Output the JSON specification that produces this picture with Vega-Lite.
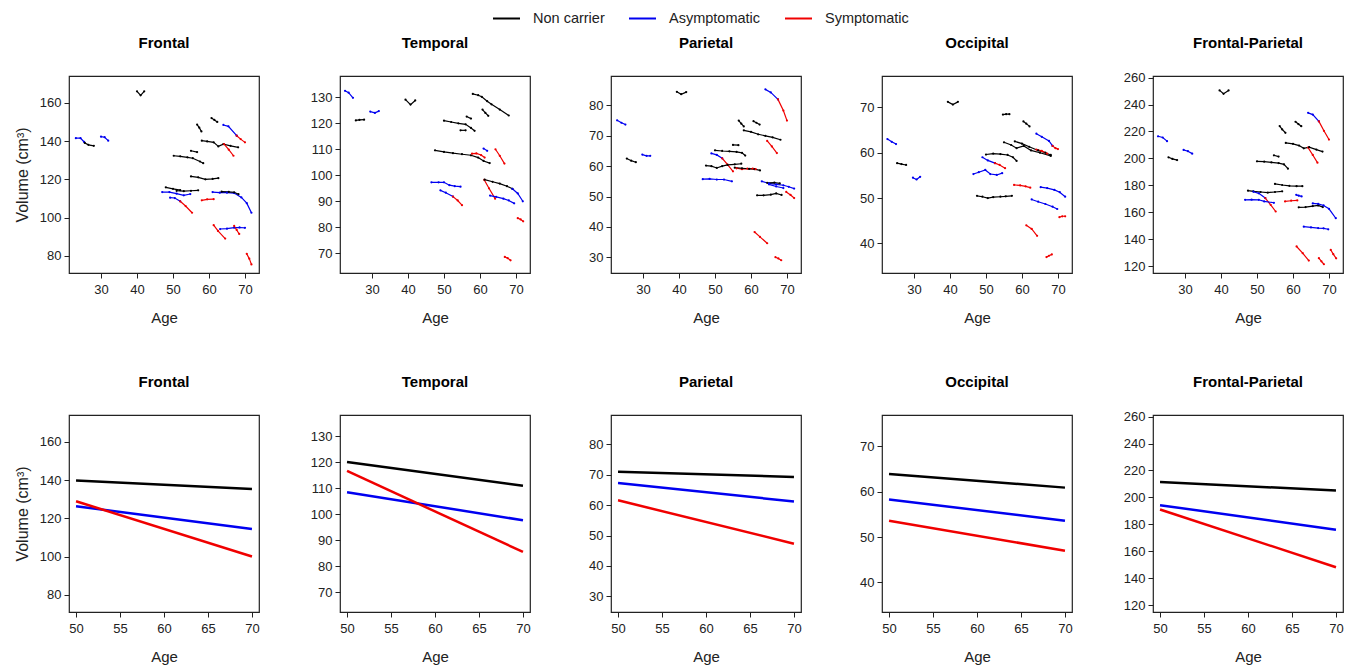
{
"$schema":"https://vega.github.io/schema/vega-lite/v6.json",
"background":"white",
"padding":{"left":13,"top":4,"right":5,"bottom":5},
"config":{
 "font":"Liberation Sans",
 "view":{"stroke":"#222","strokeWidth":1.2},
 "axis":{"grid":false,"domain":false,"ticks":true,"tickSize":5,"tickColor":"#222","labelFontSize":13,"labelColor":"#222","labelFont":"Liberation Sans","titleFont":"Liberation Sans","titleFontSize":15,"titleFontWeight":"normal","titleColor":"#222","labelPadding":3},
 "axisX":{"titlePadding":14,"labelPadding":5},
 "axisY":{"titlePadding":9,"labelAngle":0,"titleFontSize":16},
 "title":{"font":"Liberation Sans","fontSize":15,"fontWeight":"bold","color":"#000","offset":25,"frame":"group","anchor":"middle"}
},
"datasets":{
"traj":[
{"r":"F","s":1,"g":"Asymptomatic","a":23,"v":141.5},{"r":"F","s":1,"g":"Asymptomatic","a":24.3,"v":141.5},{"r":"F","s":1,"g":"Asymptomatic","a":25.3,"v":139.5},
{"r":"F","s":2,"g":"Non carrier","a":25.5,"v":139},{"r":"F","s":2,"g":"Non carrier","a":26.5,"v":138},{"r":"F","s":2,"g":"Non carrier","a":28,"v":137.5},
{"r":"F","s":3,"g":"Asymptomatic","a":30,"v":142.3},{"r":"F","s":3,"g":"Asymptomatic","a":31,"v":142},{"r":"F","s":3,"g":"Asymptomatic","a":32,"v":140.2},
{"r":"F","s":4,"g":"Non carrier","a":40,"v":166},{"r":"F","s":4,"g":"Non carrier","a":41,"v":163.9},{"r":"F","s":4,"g":"Non carrier","a":42,"v":166},
{"r":"F","s":5,"g":"Non carrier","a":56.7,"v":148.6},{"r":"F","s":5,"g":"Non carrier","a":57.3,"v":147},{"r":"F","s":5,"g":"Non carrier","a":57.9,"v":145},
{"r":"F","s":6,"g":"Non carrier","a":60.7,"v":152},{"r":"F","s":6,"g":"Non carrier","a":61.5,"v":151},{"r":"F","s":6,"g":"Non carrier","a":62.3,"v":150},
{"r":"F","s":7,"g":"Asymptomatic","a":64,"v":148.4},{"r":"F","s":7,"g":"Asymptomatic","a":65.4,"v":147.7},{"r":"F","s":7,"g":"Asymptomatic","a":67.7,"v":142.8},
{"r":"F","s":8,"g":"Symptomatic","a":67.7,"v":142.8},{"r":"F","s":8,"g":"Symptomatic","a":68.8,"v":141},{"r":"F","s":8,"g":"Symptomatic","a":70,"v":139.3},
{"r":"F","s":9,"g":"Non carrier","a":58,"v":140.2},{"r":"F","s":9,"g":"Non carrier","a":59.5,"v":139.8},{"r":"F","s":9,"g":"Non carrier","a":61.3,"v":139.3},{"r":"F","s":9,"g":"Non carrier","a":62.6,"v":137.2},{"r":"F","s":9,"g":"Non carrier","a":64,"v":138.4},{"r":"F","s":9,"g":"Non carrier","a":66,"v":137.5},{"r":"F","s":9,"g":"Non carrier","a":68.1,"v":136.7},
{"r":"F","s":10,"g":"Symptomatic","a":64.2,"v":138.4},{"r":"F","s":10,"g":"Symptomatic","a":65.5,"v":135.5},{"r":"F","s":10,"g":"Symptomatic","a":66.8,"v":132.3},
{"r":"F","s":11,"g":"Non carrier","a":50.2,"v":132.3},{"r":"F","s":11,"g":"Non carrier","a":52,"v":132},{"r":"F","s":11,"g":"Non carrier","a":54,"v":131.5},{"r":"F","s":11,"g":"Non carrier","a":55.5,"v":131},{"r":"F","s":11,"g":"Non carrier","a":57.5,"v":129.3},{"r":"F","s":11,"g":"Non carrier","a":58.4,"v":128.4},
{"r":"F","s":12,"g":"Non carrier","a":55,"v":134.9},{"r":"F","s":12,"g":"Non carrier","a":56.7,"v":134.2},
{"r":"F","s":13,"g":"Non carrier","a":55,"v":121.5},{"r":"F","s":13,"g":"Non carrier","a":57,"v":121},{"r":"F","s":13,"g":"Non carrier","a":59,"v":120},{"r":"F","s":13,"g":"Non carrier","a":61,"v":120.2},{"r":"F","s":13,"g":"Non carrier","a":62.6,"v":120.6},
{"r":"F","s":14,"g":"Non carrier","a":48,"v":115.8},{"r":"F","s":14,"g":"Non carrier","a":50,"v":115},{"r":"F","s":14,"g":"Non carrier","a":52,"v":114.3},
{"r":"F","s":15,"g":"Non carrier","a":51,"v":114},{"r":"F","s":15,"g":"Non carrier","a":53,"v":113.8},{"r":"F","s":15,"g":"Non carrier","a":55,"v":114},{"r":"F","s":15,"g":"Non carrier","a":57,"v":114.2},
{"r":"F","s":16,"g":"Asymptomatic","a":47,"v":113.3},{"r":"F","s":16,"g":"Asymptomatic","a":49,"v":113.3},{"r":"F","s":16,"g":"Asymptomatic","a":51,"v":112.5},{"r":"F","s":16,"g":"Asymptomatic","a":53,"v":111.6},{"r":"F","s":16,"g":"Asymptomatic","a":54.8,"v":112.3},
{"r":"F","s":17,"g":"Asymptomatic","a":49.2,"v":110.4},{"r":"F","s":17,"g":"Asymptomatic","a":50.5,"v":110.2},{"r":"F","s":17,"g":"Asymptomatic","a":52,"v":108.5},
{"r":"F","s":18,"g":"Symptomatic","a":52,"v":108.5},{"r":"F","s":18,"g":"Symptomatic","a":53.5,"v":106},{"r":"F","s":18,"g":"Symptomatic","a":55.3,"v":102.5},
{"r":"F","s":19,"g":"Symptomatic","a":58,"v":109},{"r":"F","s":19,"g":"Symptomatic","a":59.5,"v":109.5},{"r":"F","s":19,"g":"Symptomatic","a":61.3,"v":109.6},
{"r":"F","s":20,"g":"Asymptomatic","a":61,"v":113.3},{"r":"F","s":20,"g":"Asymptomatic","a":63,"v":113},{"r":"F","s":20,"g":"Asymptomatic","a":65,"v":113},{"r":"F","s":20,"g":"Asymptomatic","a":67,"v":112.8},{"r":"F","s":20,"g":"Asymptomatic","a":69,"v":110.5},{"r":"F","s":20,"g":"Asymptomatic","a":70.5,"v":107.5},{"r":"F","s":20,"g":"Asymptomatic","a":71.8,"v":102.5},
{"r":"F","s":21,"g":"Non carrier","a":63.5,"v":113.5},{"r":"F","s":21,"g":"Non carrier","a":65.5,"v":113.4},{"r":"F","s":21,"g":"Non carrier","a":67,"v":113.2},{"r":"F","s":21,"g":"Non carrier","a":68.2,"v":112.2},
{"r":"F","s":22,"g":"Symptomatic","a":61.3,"v":96},{"r":"F","s":22,"g":"Symptomatic","a":62.5,"v":93},{"r":"F","s":22,"g":"Symptomatic","a":64.5,"v":89},
{"r":"F","s":23,"g":"Asymptomatic","a":63.1,"v":94},{"r":"F","s":23,"g":"Asymptomatic","a":65,"v":94.2},{"r":"F","s":23,"g":"Asymptomatic","a":67,"v":94.7},{"r":"F","s":23,"g":"Asymptomatic","a":68.5,"v":94.8},{"r":"F","s":23,"g":"Asymptomatic","a":70,"v":94.6},
{"r":"F","s":24,"g":"Symptomatic","a":67,"v":95.6},{"r":"F","s":24,"g":"Symptomatic","a":67.7,"v":93.5},{"r":"F","s":24,"g":"Symptomatic","a":68.4,"v":91.4},
{"r":"F","s":25,"g":"Symptomatic","a":70.5,"v":81},{"r":"F","s":25,"g":"Symptomatic","a":71.2,"v":78.5},{"r":"F","s":25,"g":"Symptomatic","a":71.8,"v":75.5},

{"r":"T","s":1,"g":"Asymptomatic","a":22.5,"v":132.5},{"r":"T","s":1,"g":"Asymptomatic","a":23.5,"v":131.8},{"r":"T","s":1,"g":"Asymptomatic","a":24.7,"v":129.8},
{"r":"T","s":2,"g":"Non carrier","a":25.5,"v":121.1},{"r":"T","s":2,"g":"Non carrier","a":26.5,"v":121.3},{"r":"T","s":2,"g":"Non carrier","a":27.8,"v":121.4},
{"r":"T","s":3,"g":"Asymptomatic","a":29.5,"v":124.5},{"r":"T","s":3,"g":"Asymptomatic","a":30.8,"v":124},{"r":"T","s":3,"g":"Asymptomatic","a":31.9,"v":124.7},
{"r":"T","s":4,"g":"Non carrier","a":39.3,"v":129.1},{"r":"T","s":4,"g":"Non carrier","a":40.7,"v":127.2},{"r":"T","s":4,"g":"Non carrier","a":42,"v":128.8},
{"r":"T","s":5,"g":"Non carrier","a":58,"v":131.3},{"r":"T","s":5,"g":"Non carrier","a":59.5,"v":130.8},{"r":"T","s":5,"g":"Non carrier","a":60.5,"v":130.2},{"r":"T","s":5,"g":"Non carrier","a":62,"v":128.5},{"r":"T","s":5,"g":"Non carrier","a":63.2,"v":127.3},{"r":"T","s":5,"g":"Non carrier","a":65.5,"v":125.3},{"r":"T","s":5,"g":"Non carrier","a":68,"v":123},
{"r":"T","s":6,"g":"Non carrier","a":60.7,"v":125.3},{"r":"T","s":6,"g":"Non carrier","a":61.5,"v":124},{"r":"T","s":6,"g":"Non carrier","a":62.3,"v":122.9},
{"r":"T","s":7,"g":"Non carrier","a":50,"v":121},{"r":"T","s":7,"g":"Non carrier","a":52,"v":120.5},{"r":"T","s":7,"g":"Non carrier","a":54,"v":120},{"r":"T","s":7,"g":"Non carrier","a":56,"v":119.6},{"r":"T","s":7,"g":"Non carrier","a":57.5,"v":118.2},{"r":"T","s":7,"g":"Non carrier","a":58.5,"v":117.1},
{"r":"T","s":8,"g":"Non carrier","a":56.3,"v":122.6},{"r":"T","s":8,"g":"Non carrier","a":57.5,"v":121.8},
{"r":"T","s":9,"g":"Non carrier","a":54.6,"v":117.3},{"r":"T","s":9,"g":"Non carrier","a":56,"v":117.3},
{"r":"T","s":10,"g":"Non carrier","a":47.5,"v":109.6},{"r":"T","s":10,"g":"Non carrier","a":50,"v":109},{"r":"T","s":10,"g":"Non carrier","a":52.5,"v":108.5},{"r":"T","s":10,"g":"Non carrier","a":55,"v":108.1},{"r":"T","s":10,"g":"Non carrier","a":57.5,"v":107.7},{"r":"T","s":10,"g":"Non carrier","a":59.5,"v":106.8},{"r":"T","s":10,"g":"Non carrier","a":61,"v":105.5},{"r":"T","s":10,"g":"Non carrier","a":62.7,"v":104.7},
{"r":"T","s":11,"g":"Symptomatic","a":57.8,"v":108.3},{"r":"T","s":11,"g":"Symptomatic","a":59,"v":108.4},{"r":"T","s":11,"g":"Symptomatic","a":60.3,"v":107.8},{"r":"T","s":11,"g":"Symptomatic","a":61.3,"v":106.8},
{"r":"T","s":12,"g":"Asymptomatic","a":61,"v":110.3},{"r":"T","s":12,"g":"Asymptomatic","a":62,"v":109.4},
{"r":"T","s":13,"g":"Symptomatic","a":64.3,"v":110},{"r":"T","s":13,"g":"Symptomatic","a":65.5,"v":107.5},{"r":"T","s":13,"g":"Symptomatic","a":66.8,"v":104.5},
{"r":"T","s":14,"g":"Asymptomatic","a":46.5,"v":97.3},{"r":"T","s":14,"g":"Asymptomatic","a":48.5,"v":97.3},{"r":"T","s":14,"g":"Asymptomatic","a":50,"v":97.3},{"r":"T","s":14,"g":"Asymptomatic","a":51.5,"v":96.2},{"r":"T","s":14,"g":"Asymptomatic","a":53,"v":95.8},{"r":"T","s":14,"g":"Asymptomatic","a":54.6,"v":95.6},
{"r":"T","s":15,"g":"Asymptomatic","a":49,"v":94.2},{"r":"T","s":15,"g":"Asymptomatic","a":50.5,"v":93.3},{"r":"T","s":15,"g":"Asymptomatic","a":52.5,"v":91.8},
{"r":"T","s":16,"g":"Symptomatic","a":52.5,"v":91.8},{"r":"T","s":16,"g":"Symptomatic","a":53.8,"v":90.3},{"r":"T","s":16,"g":"Symptomatic","a":55,"v":88.5},
{"r":"T","s":17,"g":"Non carrier","a":61.3,"v":98.3},{"r":"T","s":17,"g":"Non carrier","a":63.5,"v":97.5},{"r":"T","s":17,"g":"Non carrier","a":65.5,"v":96.8},{"r":"T","s":17,"g":"Non carrier","a":67.5,"v":95.8},{"r":"T","s":17,"g":"Non carrier","a":69,"v":94.8},
{"r":"T","s":18,"g":"Asymptomatic","a":69,"v":94.8},{"r":"T","s":18,"g":"Asymptomatic","a":70.5,"v":93},{"r":"T","s":18,"g":"Asymptomatic","a":71.9,"v":90},
{"r":"T","s":19,"g":"Symptomatic","a":61.2,"v":98.2},{"r":"T","s":19,"g":"Symptomatic","a":62.5,"v":95},{"r":"T","s":19,"g":"Symptomatic","a":64.2,"v":91},
{"r":"T","s":20,"g":"Asymptomatic","a":62.8,"v":92.2},{"r":"T","s":20,"g":"Asymptomatic","a":64.5,"v":91.7},{"r":"T","s":20,"g":"Asymptomatic","a":66.5,"v":91},{"r":"T","s":20,"g":"Asymptomatic","a":68,"v":90.3},{"r":"T","s":20,"g":"Asymptomatic","a":69.5,"v":89.2},
{"r":"T","s":21,"g":"Symptomatic","a":70.5,"v":83.5},{"r":"T","s":21,"g":"Symptomatic","a":71.3,"v":83},{"r":"T","s":21,"g":"Symptomatic","a":72,"v":82.3},
{"r":"T","s":22,"g":"Symptomatic","a":66.9,"v":68.6},{"r":"T","s":22,"g":"Symptomatic","a":67.7,"v":68.1},{"r":"T","s":22,"g":"Symptomatic","a":68.5,"v":67.3},

{"r":"P","s":1,"g":"Asymptomatic","a":22.8,"v":75.1},{"r":"P","s":1,"g":"Asymptomatic","a":24,"v":74.3},{"r":"P","s":1,"g":"Asymptomatic","a":25.1,"v":73.7},
{"r":"P","s":2,"g":"Non carrier","a":25.5,"v":62.5},{"r":"P","s":2,"g":"Non carrier","a":26.7,"v":61.8},{"r":"P","s":2,"g":"Non carrier","a":28,"v":61.3},
{"r":"P","s":3,"g":"Asymptomatic","a":29.8,"v":63.8},{"r":"P","s":3,"g":"Asymptomatic","a":31,"v":63.4},{"r":"P","s":3,"g":"Asymptomatic","a":32,"v":63.4},
{"r":"P","s":4,"g":"Non carrier","a":39.4,"v":84.5},{"r":"P","s":4,"g":"Non carrier","a":40.6,"v":83.7},{"r":"P","s":4,"g":"Non carrier","a":42,"v":84.4},
{"r":"P","s":5,"g":"Asymptomatic","a":64,"v":85.3},{"r":"P","s":5,"g":"Asymptomatic","a":65.5,"v":84.3},{"r":"P","s":5,"g":"Asymptomatic","a":67.5,"v":82},
{"r":"P","s":6,"g":"Symptomatic","a":67.5,"v":82},{"r":"P","s":6,"g":"Symptomatic","a":69,"v":78.3},{"r":"P","s":6,"g":"Symptomatic","a":70,"v":75},
{"r":"P","s":7,"g":"Non carrier","a":56.6,"v":75},{"r":"P","s":7,"g":"Non carrier","a":57.3,"v":74},{"r":"P","s":7,"g":"Non carrier","a":58,"v":73.1},
{"r":"P","s":8,"g":"Non carrier","a":60.7,"v":74.8},{"r":"P","s":8,"g":"Non carrier","a":61.5,"v":74.3},{"r":"P","s":8,"g":"Non carrier","a":62.4,"v":73.7},
{"r":"P","s":9,"g":"Non carrier","a":58,"v":71.8},{"r":"P","s":9,"g":"Non carrier","a":60,"v":71.3},{"r":"P","s":9,"g":"Non carrier","a":62,"v":70.5},{"r":"P","s":9,"g":"Non carrier","a":64,"v":70},{"r":"P","s":9,"g":"Non carrier","a":66,"v":69.5},{"r":"P","s":9,"g":"Non carrier","a":68.2,"v":68.7},
{"r":"P","s":10,"g":"Symptomatic","a":64.5,"v":68.3},{"r":"P","s":10,"g":"Symptomatic","a":65.8,"v":66.5},{"r":"P","s":10,"g":"Symptomatic","a":67.2,"v":64.3},
{"r":"P","s":11,"g":"Non carrier","a":55,"v":67},{"r":"P","s":11,"g":"Non carrier","a":56.5,"v":66.9},
{"r":"P","s":12,"g":"Non carrier","a":50,"v":65.2},{"r":"P","s":12,"g":"Non carrier","a":52,"v":65},{"r":"P","s":12,"g":"Non carrier","a":54,"v":64.9},{"r":"P","s":12,"g":"Non carrier","a":56,"v":64.7},{"r":"P","s":12,"g":"Non carrier","a":57.5,"v":64.4},{"r":"P","s":12,"g":"Non carrier","a":58.4,"v":63.5},
{"r":"P","s":13,"g":"Asymptomatic","a":49,"v":64.2},{"r":"P","s":13,"g":"Asymptomatic","a":50.5,"v":63.7},{"r":"P","s":13,"g":"Asymptomatic","a":52,"v":62.6},
{"r":"P","s":14,"g":"Symptomatic","a":52,"v":62.6},{"r":"P","s":14,"g":"Symptomatic","a":53.5,"v":60.5},{"r":"P","s":14,"g":"Symptomatic","a":55,"v":58.3},
{"r":"P","s":15,"g":"Non carrier","a":47.5,"v":60.2},{"r":"P","s":15,"g":"Non carrier","a":49,"v":60},{"r":"P","s":15,"g":"Non carrier","a":50.5,"v":59.4},{"r":"P","s":15,"g":"Non carrier","a":52,"v":60},{"r":"P","s":15,"g":"Non carrier","a":53.5,"v":60.4},{"r":"P","s":15,"g":"Non carrier","a":55.5,"v":60.6},{"r":"P","s":15,"g":"Non carrier","a":57.3,"v":60.8},
{"r":"P","s":16,"g":"Symptomatic","a":56,"v":59.3},{"r":"P","s":16,"g":"Symptomatic","a":57.5,"v":59},{"r":"P","s":16,"g":"Symptomatic","a":59,"v":59.2},{"r":"P","s":16,"g":"Symptomatic","a":60.5,"v":59.2},{"r":"P","s":16,"g":"Symptomatic","a":61.3,"v":59},
{"r":"P","s":17,"g":"Non carrier","a":55.5,"v":59.5},{"r":"P","s":17,"g":"Non carrier","a":57.5,"v":59.3},{"r":"P","s":17,"g":"Non carrier","a":59.5,"v":59.1},{"r":"P","s":17,"g":"Non carrier","a":61,"v":59},{"r":"P","s":17,"g":"Non carrier","a":62.5,"v":58.6},
{"r":"P","s":18,"g":"Asymptomatic","a":46.6,"v":55.7},{"r":"P","s":18,"g":"Asymptomatic","a":48.5,"v":55.8},{"r":"P","s":18,"g":"Asymptomatic","a":50.5,"v":55.6},{"r":"P","s":18,"g":"Asymptomatic","a":52.5,"v":55.6},{"r":"P","s":18,"g":"Asymptomatic","a":54.7,"v":55},
{"r":"P","s":19,"g":"Asymptomatic","a":63,"v":55},{"r":"P","s":19,"g":"Asymptomatic","a":65,"v":54.3},{"r":"P","s":19,"g":"Asymptomatic","a":67,"v":54},{"r":"P","s":19,"g":"Asymptomatic","a":69,"v":53.7},{"r":"P","s":19,"g":"Asymptomatic","a":70.5,"v":53.2},{"r":"P","s":19,"g":"Asymptomatic","a":72,"v":52.6},
{"r":"P","s":20,"g":"Asymptomatic","a":65,"v":54},{"r":"P","s":20,"g":"Asymptomatic","a":67,"v":53.3},{"r":"P","s":20,"g":"Asymptomatic","a":69,"v":52.8},
{"r":"P","s":21,"g":"Non carrier","a":64.5,"v":54.5},{"r":"P","s":21,"g":"Non carrier","a":66.5,"v":54.6},{"r":"P","s":21,"g":"Non carrier","a":68,"v":54.3},
{"r":"P","s":22,"g":"Symptomatic","a":69.8,"v":51.5},{"r":"P","s":22,"g":"Symptomatic","a":71,"v":50.5},{"r":"P","s":22,"g":"Symptomatic","a":72,"v":49.5},
{"r":"P","s":23,"g":"Non carrier","a":61.7,"v":50.4},{"r":"P","s":23,"g":"Non carrier","a":63.5,"v":50.4},{"r":"P","s":23,"g":"Non carrier","a":65.5,"v":50.6},{"r":"P","s":23,"g":"Non carrier","a":67,"v":51},{"r":"P","s":23,"g":"Non carrier","a":68.5,"v":50.5},
{"r":"P","s":24,"g":"Symptomatic","a":61,"v":38.3},{"r":"P","s":24,"g":"Symptomatic","a":62.5,"v":36.7},{"r":"P","s":24,"g":"Symptomatic","a":64.5,"v":34.6},
{"r":"P","s":25,"g":"Symptomatic","a":66.8,"v":30},{"r":"P","s":25,"g":"Symptomatic","a":67.6,"v":29.6},{"r":"P","s":25,"g":"Symptomatic","a":68.4,"v":29},

{"r":"O","s":1,"g":"Asymptomatic","a":22.6,"v":63},{"r":"O","s":1,"g":"Asymptomatic","a":23.8,"v":62.4},{"r":"O","s":1,"g":"Asymptomatic","a":25,"v":61.9},
{"r":"O","s":2,"g":"Non carrier","a":25.3,"v":57.7},{"r":"O","s":2,"g":"Non carrier","a":26.5,"v":57.5},{"r":"O","s":2,"g":"Non carrier","a":27.8,"v":57.3},
{"r":"O","s":3,"g":"Asymptomatic","a":29.7,"v":54.5},{"r":"O","s":3,"g":"Asymptomatic","a":30.7,"v":54.1},{"r":"O","s":3,"g":"Asymptomatic","a":31.7,"v":54.7},
{"r":"O","s":4,"g":"Non carrier","a":39.4,"v":71.2},{"r":"O","s":4,"g":"Non carrier","a":40.8,"v":70.6},{"r":"O","s":4,"g":"Non carrier","a":42.2,"v":71.2},
{"r":"O","s":5,"g":"Non carrier","a":54.7,"v":68.4},{"r":"O","s":5,"g":"Non carrier","a":55.6,"v":68.5},{"r":"O","s":5,"g":"Non carrier","a":56.5,"v":68.5},
{"r":"O","s":6,"g":"Non carrier","a":60.4,"v":66.9},{"r":"O","s":6,"g":"Non carrier","a":61.2,"v":66.4},{"r":"O","s":6,"g":"Non carrier","a":62.1,"v":65.8},
{"r":"O","s":7,"g":"Asymptomatic","a":64,"v":64.2},{"r":"O","s":7,"g":"Asymptomatic","a":65.5,"v":63.5},{"r":"O","s":7,"g":"Asymptomatic","a":67.5,"v":62.6},{"r":"O","s":7,"g":"Asymptomatic","a":68.5,"v":61.5},
{"r":"O","s":8,"g":"Symptomatic","a":68.5,"v":61.5},{"r":"O","s":8,"g":"Symptomatic","a":69.3,"v":61},{"r":"O","s":8,"g":"Symptomatic","a":70,"v":60.8},
{"r":"O","s":9,"g":"Non carrier","a":55,"v":62.3},{"r":"O","s":9,"g":"Non carrier","a":57,"v":61.7},{"r":"O","s":9,"g":"Non carrier","a":58.5,"v":61},{"r":"O","s":9,"g":"Non carrier","a":60.5,"v":61.5},{"r":"O","s":9,"g":"Non carrier","a":62.5,"v":60.5},{"r":"O","s":9,"g":"Non carrier","a":65,"v":60},{"r":"O","s":9,"g":"Non carrier","a":68,"v":59.3},
{"r":"O","s":10,"g":"Non carrier","a":58,"v":62.5},{"r":"O","s":10,"g":"Non carrier","a":60,"v":62},{"r":"O","s":10,"g":"Non carrier","a":62,"v":61.3},{"r":"O","s":10,"g":"Non carrier","a":64.5,"v":60.5},{"r":"O","s":10,"g":"Non carrier","a":66.5,"v":60},{"r":"O","s":10,"g":"Non carrier","a":68,"v":59.5},
{"r":"O","s":11,"g":"Symptomatic","a":64,"v":60.7},{"r":"O","s":11,"g":"Symptomatic","a":65.5,"v":60.4},{"r":"O","s":11,"g":"Symptomatic","a":67,"v":59.8},
{"r":"O","s":12,"g":"Non carrier","a":50,"v":59.6},{"r":"O","s":12,"g":"Non carrier","a":52,"v":59.8},{"r":"O","s":12,"g":"Non carrier","a":54,"v":59.7},{"r":"O","s":12,"g":"Non carrier","a":56,"v":59.5},{"r":"O","s":12,"g":"Non carrier","a":57.5,"v":59},{"r":"O","s":12,"g":"Non carrier","a":58.5,"v":58.2},
{"r":"O","s":13,"g":"Asymptomatic","a":49,"v":59},{"r":"O","s":13,"g":"Asymptomatic","a":50.5,"v":58.3},{"r":"O","s":13,"g":"Asymptomatic","a":52.5,"v":57.7},
{"r":"O","s":14,"g":"Symptomatic","a":52.5,"v":57.7},{"r":"O","s":14,"g":"Symptomatic","a":53.8,"v":57.3},{"r":"O","s":14,"g":"Symptomatic","a":55.3,"v":56.6},
{"r":"O","s":15,"g":"Asymptomatic","a":46.5,"v":55.3},{"r":"O","s":15,"g":"Asymptomatic","a":48,"v":55.7},{"r":"O","s":15,"g":"Asymptomatic","a":49.8,"v":56.2},{"r":"O","s":15,"g":"Asymptomatic","a":51.2,"v":55.3},{"r":"O","s":15,"g":"Asymptomatic","a":53,"v":55.1},{"r":"O","s":15,"g":"Asymptomatic","a":54.5,"v":55.5},
{"r":"O","s":16,"g":"Non carrier","a":47.5,"v":50.5},{"r":"O","s":16,"g":"Non carrier","a":49,"v":50.3},{"r":"O","s":16,"g":"Non carrier","a":50.5,"v":50},{"r":"O","s":16,"g":"Non carrier","a":52,"v":50.2},{"r":"O","s":16,"g":"Non carrier","a":54,"v":50.3},{"r":"O","s":16,"g":"Non carrier","a":55.5,"v":50.4},{"r":"O","s":16,"g":"Non carrier","a":57.2,"v":50.5},
{"r":"O","s":17,"g":"Symptomatic","a":57.8,"v":52.9},{"r":"O","s":17,"g":"Symptomatic","a":59.5,"v":52.8},{"r":"O","s":17,"g":"Symptomatic","a":61,"v":52.6},{"r":"O","s":17,"g":"Symptomatic","a":62.3,"v":52.3},
{"r":"O","s":18,"g":"Asymptomatic","a":65.2,"v":52.4},{"r":"O","s":18,"g":"Asymptomatic","a":67,"v":52.2},{"r":"O","s":18,"g":"Asymptomatic","a":69,"v":51.8},{"r":"O","s":18,"g":"Asymptomatic","a":70.5,"v":51.3},{"r":"O","s":18,"g":"Asymptomatic","a":72,"v":50.3},
{"r":"O","s":19,"g":"Asymptomatic","a":62.7,"v":49.7},{"r":"O","s":19,"g":"Asymptomatic","a":64.5,"v":49.2},{"r":"O","s":19,"g":"Asymptomatic","a":66.5,"v":48.7},{"r":"O","s":19,"g":"Asymptomatic","a":68.5,"v":48.1},{"r":"O","s":19,"g":"Asymptomatic","a":69.8,"v":47.6},
{"r":"O","s":20,"g":"Symptomatic","a":70.4,"v":45.8},{"r":"O","s":20,"g":"Symptomatic","a":71.2,"v":46},{"r":"O","s":20,"g":"Symptomatic","a":72,"v":46},
{"r":"O","s":21,"g":"Symptomatic","a":61.2,"v":44},{"r":"O","s":21,"g":"Symptomatic","a":62.7,"v":43.2},{"r":"O","s":21,"g":"Symptomatic","a":64.2,"v":41.7},
{"r":"O","s":22,"g":"Symptomatic","a":66.8,"v":37},{"r":"O","s":22,"g":"Symptomatic","a":67.5,"v":37.3},{"r":"O","s":22,"g":"Symptomatic","a":68.3,"v":37.6},

{"r":"FP","s":1,"g":"Asymptomatic","a":22.5,"v":216.4},{"r":"FP","s":1,"g":"Asymptomatic","a":23.8,"v":215.5},{"r":"FP","s":1,"g":"Asymptomatic","a":25,"v":212.8},
{"r":"FP","s":2,"g":"Non carrier","a":25.4,"v":200.8},{"r":"FP","s":2,"g":"Non carrier","a":26.5,"v":199.6},{"r":"FP","s":2,"g":"Non carrier","a":27.8,"v":198.7},
{"r":"FP","s":3,"g":"Asymptomatic","a":29.6,"v":206.3},{"r":"FP","s":3,"g":"Asymptomatic","a":30.8,"v":205.3},{"r":"FP","s":3,"g":"Asymptomatic","a":32,"v":203.5},
{"r":"FP","s":4,"g":"Non carrier","a":39.6,"v":250.5},{"r":"FP","s":4,"g":"Non carrier","a":40.7,"v":248},{"r":"FP","s":4,"g":"Non carrier","a":42.1,"v":250.5},
{"r":"FP","s":5,"g":"Asymptomatic","a":64.2,"v":233.8},{"r":"FP","s":5,"g":"Asymptomatic","a":65.5,"v":232.5},{"r":"FP","s":5,"g":"Asymptomatic","a":67.2,"v":227.5},
{"r":"FP","s":6,"g":"Symptomatic","a":67.2,"v":227.5},{"r":"FP","s":6,"g":"Symptomatic","a":68.6,"v":220.5},{"r":"FP","s":6,"g":"Symptomatic","a":70,"v":214},
{"r":"FP","s":7,"g":"Non carrier","a":56.3,"v":224},{"r":"FP","s":7,"g":"Non carrier","a":57,"v":221.5},{"r":"FP","s":7,"g":"Non carrier","a":57.9,"v":219},
{"r":"FP","s":8,"g":"Non carrier","a":60.7,"v":227.2},{"r":"FP","s":8,"g":"Non carrier","a":61.5,"v":225.5},{"r":"FP","s":8,"g":"Non carrier","a":62.3,"v":223.9},
{"r":"FP","s":9,"g":"Non carrier","a":58,"v":211.5},{"r":"FP","s":9,"g":"Non carrier","a":60,"v":210.8},{"r":"FP","s":9,"g":"Non carrier","a":61.7,"v":209.5},{"r":"FP","s":9,"g":"Non carrier","a":63,"v":207.5},{"r":"FP","s":9,"g":"Non carrier","a":64.5,"v":208.3},{"r":"FP","s":9,"g":"Non carrier","a":66.5,"v":206.5},{"r":"FP","s":9,"g":"Non carrier","a":68.2,"v":205},
{"r":"FP","s":10,"g":"Symptomatic","a":64.2,"v":208},{"r":"FP","s":10,"g":"Symptomatic","a":65.5,"v":202.5},{"r":"FP","s":10,"g":"Symptomatic","a":66.8,"v":196.8},
{"r":"FP","s":11,"g":"Non carrier","a":54.7,"v":202.3},{"r":"FP","s":11,"g":"Non carrier","a":56,"v":201.3},
{"r":"FP","s":12,"g":"Non carrier","a":50,"v":197.8},{"r":"FP","s":12,"g":"Non carrier","a":52,"v":197.5},{"r":"FP","s":12,"g":"Non carrier","a":54,"v":197},{"r":"FP","s":12,"g":"Non carrier","a":56,"v":196.5},{"r":"FP","s":12,"g":"Non carrier","a":57.5,"v":195.5},{"r":"FP","s":12,"g":"Non carrier","a":58.6,"v":192.3},
{"r":"FP","s":13,"g":"Non carrier","a":55,"v":181},{"r":"FP","s":13,"g":"Non carrier","a":57,"v":180.2},{"r":"FP","s":13,"g":"Non carrier","a":59,"v":179.6},{"r":"FP","s":13,"g":"Non carrier","a":61,"v":179.3},{"r":"FP","s":13,"g":"Non carrier","a":62.6,"v":179.3},
{"r":"FP","s":14,"g":"Non carrier","a":47.5,"v":176},{"r":"FP","s":14,"g":"Non carrier","a":49,"v":175.5},{"r":"FP","s":14,"g":"Non carrier","a":51,"v":175},{"r":"FP","s":14,"g":"Non carrier","a":53,"v":174.6},{"r":"FP","s":14,"g":"Non carrier","a":55,"v":175},{"r":"FP","s":14,"g":"Non carrier","a":57,"v":175.5},
{"r":"FP","s":15,"g":"Asymptomatic","a":49,"v":175.2},{"r":"FP","s":15,"g":"Asymptomatic","a":50.5,"v":174},{"r":"FP","s":15,"g":"Asymptomatic","a":52.3,"v":170.5},
{"r":"FP","s":16,"g":"Symptomatic","a":52.3,"v":170.5},{"r":"FP","s":16,"g":"Symptomatic","a":53.8,"v":165.5},{"r":"FP","s":16,"g":"Symptomatic","a":55.2,"v":160.5},
{"r":"FP","s":17,"g":"Asymptomatic","a":46.7,"v":169.2},{"r":"FP","s":17,"g":"Asymptomatic","a":48.5,"v":169.3},{"r":"FP","s":17,"g":"Asymptomatic","a":50.5,"v":169.2},{"r":"FP","s":17,"g":"Asymptomatic","a":52,"v":168},{"r":"FP","s":17,"g":"Asymptomatic","a":54.7,"v":167},
{"r":"FP","s":18,"g":"Symptomatic","a":57.8,"v":168},{"r":"FP","s":18,"g":"Symptomatic","a":59.5,"v":168.5},{"r":"FP","s":18,"g":"Symptomatic","a":61.2,"v":168.7},
{"r":"FP","s":19,"g":"Asymptomatic","a":60.9,"v":172.9},{"r":"FP","s":19,"g":"Asymptomatic","a":61.6,"v":172.3},{"r":"FP","s":19,"g":"Asymptomatic","a":62.4,"v":171.7},
{"r":"FP","s":20,"g":"Non carrier","a":61.6,"v":163.6},{"r":"FP","s":20,"g":"Non carrier","a":63.5,"v":163.8},{"r":"FP","s":20,"g":"Non carrier","a":65.5,"v":164.5},{"r":"FP","s":20,"g":"Non carrier","a":67,"v":165},{"r":"FP","s":20,"g":"Non carrier","a":68.3,"v":163.8},
{"r":"FP","s":21,"g":"Asymptomatic","a":65.5,"v":166.5},{"r":"FP","s":21,"g":"Asymptomatic","a":67,"v":166.2},{"r":"FP","s":21,"g":"Asymptomatic","a":68.5,"v":165},{"r":"FP","s":21,"g":"Asymptomatic","a":70,"v":162.5},{"r":"FP","s":21,"g":"Asymptomatic","a":71.9,"v":155.5},
{"r":"FP","s":22,"g":"Asymptomatic","a":63,"v":149.2},{"r":"FP","s":22,"g":"Asymptomatic","a":65,"v":148.7},{"r":"FP","s":22,"g":"Asymptomatic","a":67,"v":148.2},{"r":"FP","s":22,"g":"Asymptomatic","a":68.5,"v":148},{"r":"FP","s":22,"g":"Asymptomatic","a":69.8,"v":147.3},
{"r":"FP","s":23,"g":"Symptomatic","a":61,"v":134.5},{"r":"FP","s":23,"g":"Symptomatic","a":62.7,"v":129.5},{"r":"FP","s":23,"g":"Symptomatic","a":64.4,"v":124},
{"r":"FP","s":24,"g":"Symptomatic","a":67.2,"v":125.8},{"r":"FP","s":24,"g":"Symptomatic","a":67.9,"v":123.5},{"r":"FP","s":24,"g":"Symptomatic","a":68.6,"v":121.3},
{"r":"FP","s":25,"g":"Symptomatic","a":70.5,"v":131.9},{"r":"FP","s":25,"g":"Symptomatic","a":71.2,"v":128.8},{"r":"FP","s":25,"g":"Symptomatic","a":72,"v":125.7}
],
"fit":[
{"r":"F","g":"Non carrier","a":50,"v":139.7},{"r":"F","g":"Non carrier","a":70,"v":135.3},
{"r":"F","g":"Asymptomatic","a":50,"v":126.3},{"r":"F","g":"Asymptomatic","a":70,"v":114.4},
{"r":"F","g":"Symptomatic","a":50,"v":128.9},{"r":"F","g":"Symptomatic","a":70,"v":100},
{"r":"T","g":"Non carrier","a":50,"v":120.1},{"r":"T","g":"Non carrier","a":70,"v":111},
{"r":"T","g":"Asymptomatic","a":50,"v":108.5},{"r":"T","g":"Asymptomatic","a":70,"v":97.7},
{"r":"T","g":"Symptomatic","a":50,"v":116.7},{"r":"T","g":"Symptomatic","a":70,"v":85.5},
{"r":"P","g":"Non carrier","a":50,"v":71},{"r":"P","g":"Non carrier","a":70,"v":69.3},
{"r":"P","g":"Asymptomatic","a":50,"v":67.3},{"r":"P","g":"Asymptomatic","a":70,"v":61.2},
{"r":"P","g":"Symptomatic","a":50,"v":61.6},{"r":"P","g":"Symptomatic","a":70,"v":47.3},
{"r":"O","g":"Non carrier","a":50,"v":63.9},{"r":"O","g":"Non carrier","a":70,"v":60.9},
{"r":"O","g":"Asymptomatic","a":50,"v":58.3},{"r":"O","g":"Asymptomatic","a":70,"v":53.6},
{"r":"O","g":"Symptomatic","a":50,"v":53.6},{"r":"O","g":"Symptomatic","a":70,"v":47},
{"r":"FP","g":"Non carrier","a":50,"v":211.4},{"r":"FP","g":"Non carrier","a":70,"v":205.1},
{"r":"FP","g":"Asymptomatic","a":50,"v":194.2},{"r":"FP","g":"Asymptomatic","a":70,"v":176},
{"r":"FP","g":"Symptomatic","a":50,"v":191},{"r":"FP","g":"Symptomatic","a":70,"v":148.1}
]
},
"columns":5,
"spacing":{"row":142,"column":81},
"bounds":"flush",
"concat":[
{"title":"Frontal","width":190,"height":197,"data":{"name":"traj"},"transform":[{"filter":"datum.r=='F'"}],
 "encoding":{"x":{"field":"a","type":"quantitative","title":"Age","scale":{"domain":[21.1,73.9],"nice":false,"zero":false},"axis":{"values":[30,40,50,60,70]}},
  "y":{"field":"v","type":"quantitative","title":"Volume (cm³)","scale":{"domain":[71,174],"nice":false,"zero":false},"axis":{"values":[80,100,120,140,160]}},
  "color":{"field":"g","type":"nominal","title":null,"scale":{"domain":["Non carrier","Asymptomatic","Symptomatic"],"range":["#000000","#0000f0","#f00000"]},"legend":{"orient":"none","legendX":423,"legendY":-72,"direction":"horizontal","symbolType":"stroke","symbolStrokeWidth":2,"symbolSize":729,"labelFontSize":14.5,"labelFont":"Liberation Sans","labelColor":"#222","columnPadding":20,"labelOffset":12}},
  "detail":{"field":"s","type":"nominal"},"order":{"field":"a","type":"quantitative"}},
 "layer":[{"mark":{"type":"line","strokeWidth":1.2}},{"mark":{"type":"point","filled":true,"size":5,"opacity":1}}]},
{"title":"Temporal","width":190,"height":197,"data":{"name":"traj"},"transform":[{"filter":"datum.r=='T'"}],
 "encoding":{"x":{"field":"a","type":"quantitative","title":"Age","scale":{"domain":[21.1,73.9],"nice":false,"zero":false},"axis":{"values":[30,40,50,60,70]}},
  "y":{"field":"v","type":"quantitative","title":null,"scale":{"domain":[62.4,138.2],"nice":false,"zero":false},"axis":{"values":[70,80,90,100,110,120,130]}},
  "color":{"field":"g","type":"nominal","title":null,"scale":{"domain":["Non carrier","Asymptomatic","Symptomatic"],"range":["#000000","#0000f0","#f00000"]}},
  "detail":{"field":"s","type":"nominal"},"order":{"field":"a","type":"quantitative"}},
 "layer":[{"mark":{"type":"line","strokeWidth":1.2}},{"mark":{"type":"point","filled":true,"size":5,"opacity":1}}]},
{"title":"Parietal","width":190,"height":197,"data":{"name":"traj"},"transform":[{"filter":"datum.r=='P'"}],
 "encoding":{"x":{"field":"a","type":"quantitative","title":"Age","scale":{"domain":[21.1,73.9],"nice":false,"zero":false},"axis":{"values":[30,40,50,60,70]}},
  "y":{"field":"v","type":"quantitative","title":null,"scale":{"domain":[24.8,89.7],"nice":false,"zero":false},"axis":{"values":[30,40,50,60,70,80]}},
  "color":{"field":"g","type":"nominal","title":null,"scale":{"domain":["Non carrier","Asymptomatic","Symptomatic"],"range":["#000000","#0000f0","#f00000"]}},
  "detail":{"field":"s","type":"nominal"},"order":{"field":"a","type":"quantitative"}},
 "layer":[{"mark":{"type":"line","strokeWidth":1.2}},{"mark":{"type":"point","filled":true,"size":5,"opacity":1}}]},
{"title":"Occipital","width":190,"height":197,"data":{"name":"traj"},"transform":[{"filter":"datum.r=='O'"}],
 "encoding":{"x":{"field":"a","type":"quantitative","title":"Age","scale":{"domain":[21.1,73.9],"nice":false,"zero":false},"axis":{"values":[30,40,50,60,70]}},
  "y":{"field":"v","type":"quantitative","title":null,"scale":{"domain":[33.5,76.9],"nice":false,"zero":false},"axis":{"values":[40,50,60,70]}},
  "color":{"field":"g","type":"nominal","title":null,"scale":{"domain":["Non carrier","Asymptomatic","Symptomatic"],"range":["#000000","#0000f0","#f00000"]}},
  "detail":{"field":"s","type":"nominal"},"order":{"field":"a","type":"quantitative"}},
 "layer":[{"mark":{"type":"line","strokeWidth":1.2}},{"mark":{"type":"point","filled":true,"size":5,"opacity":1}}]},
{"title":{"text":"Frontal-Parietal","offset":21},"width":190,"height":197,"data":{"name":"traj"},"transform":[{"filter":"datum.r=='FP'"}],
 "encoding":{"x":{"field":"a","type":"quantitative","title":"Age","scale":{"domain":[21.1,73.9],"nice":false,"zero":false},"axis":{"values":[30,40,50,60,70]}},
  "y":{"field":"v","type":"quantitative","title":null,"scale":{"domain":[114.8,261.2],"nice":false,"zero":false},"axis":{"values":[120,140,160,180,200,220,240,260]}},
  "color":{"field":"g","type":"nominal","title":null,"scale":{"domain":["Non carrier","Asymptomatic","Symptomatic"],"range":["#000000","#0000f0","#f00000"]}},
  "detail":{"field":"s","type":"nominal"},"order":{"field":"a","type":"quantitative"}},
 "layer":[{"mark":{"type":"line","strokeWidth":1.2}},{"mark":{"type":"point","filled":true,"size":5,"opacity":1}}]},
{"title":"Frontal","width":190,"height":197,"data":{"name":"fit"},"transform":[{"filter":"datum.r=='F'"}],
 "mark":{"type":"line","strokeWidth":2.5},
 "encoding":{"x":{"field":"a","type":"quantitative","title":"Age","scale":{"domain":[49.2,70.8],"nice":false,"zero":false},"axis":{"values":[50,55,60,65,70]}},
  "y":{"field":"v","type":"quantitative","title":"Volume (cm³)","scale":{"domain":[71,174],"nice":false,"zero":false},"axis":{"values":[80,100,120,140,160]}},
  "color":{"field":"g","type":"nominal","title":null,"scale":{"domain":["Non carrier","Asymptomatic","Symptomatic"],"range":["#000000","#0000f0","#f00000"]}}}},
{"title":"Temporal","width":190,"height":197,"data":{"name":"fit"},"transform":[{"filter":"datum.r=='T'"}],
 "mark":{"type":"line","strokeWidth":2.5},
 "encoding":{"x":{"field":"a","type":"quantitative","title":"Age","scale":{"domain":[49.2,70.8],"nice":false,"zero":false},"axis":{"values":[50,55,60,65,70]}},
  "y":{"field":"v","type":"quantitative","title":null,"scale":{"domain":[62.4,138.2],"nice":false,"zero":false},"axis":{"values":[70,80,90,100,110,120,130]}},
  "color":{"field":"g","type":"nominal","title":null,"scale":{"domain":["Non carrier","Asymptomatic","Symptomatic"],"range":["#000000","#0000f0","#f00000"]}}}},
{"title":"Parietal","width":190,"height":197,"data":{"name":"fit"},"transform":[{"filter":"datum.r=='P'"}],
 "mark":{"type":"line","strokeWidth":2.5},
 "encoding":{"x":{"field":"a","type":"quantitative","title":"Age","scale":{"domain":[49.2,70.8],"nice":false,"zero":false},"axis":{"values":[50,55,60,65,70]}},
  "y":{"field":"v","type":"quantitative","title":null,"scale":{"domain":[24.8,89.7],"nice":false,"zero":false},"axis":{"values":[30,40,50,60,70,80]}},
  "color":{"field":"g","type":"nominal","title":null,"scale":{"domain":["Non carrier","Asymptomatic","Symptomatic"],"range":["#000000","#0000f0","#f00000"]}}}},
{"title":"Occipital","width":190,"height":197,"data":{"name":"fit"},"transform":[{"filter":"datum.r=='O'"}],
 "mark":{"type":"line","strokeWidth":2.5},
 "encoding":{"x":{"field":"a","type":"quantitative","title":"Age","scale":{"domain":[49.2,70.8],"nice":false,"zero":false},"axis":{"values":[50,55,60,65,70]}},
  "y":{"field":"v","type":"quantitative","title":null,"scale":{"domain":[33.5,76.9],"nice":false,"zero":false},"axis":{"values":[40,50,60,70]}},
  "color":{"field":"g","type":"nominal","title":null,"scale":{"domain":["Non carrier","Asymptomatic","Symptomatic"],"range":["#000000","#0000f0","#f00000"]}}}},
{"title":{"text":"Frontal-Parietal","offset":21},"width":190,"height":197,"data":{"name":"fit"},"transform":[{"filter":"datum.r=='FP'"}],
 "mark":{"type":"line","strokeWidth":2.5},
 "encoding":{"x":{"field":"a","type":"quantitative","title":"Age","scale":{"domain":[49.2,70.8],"nice":false,"zero":false},"axis":{"values":[50,55,60,65,70]}},
  "y":{"field":"v","type":"quantitative","title":null,"scale":{"domain":[114.8,261.2],"nice":false,"zero":false},"axis":{"values":[120,140,160,180,200,220,240,260]}},
  "color":{"field":"g","type":"nominal","title":null,"scale":{"domain":["Non carrier","Asymptomatic","Symptomatic"],"range":["#000000","#0000f0","#f00000"]}}}}
]
}
